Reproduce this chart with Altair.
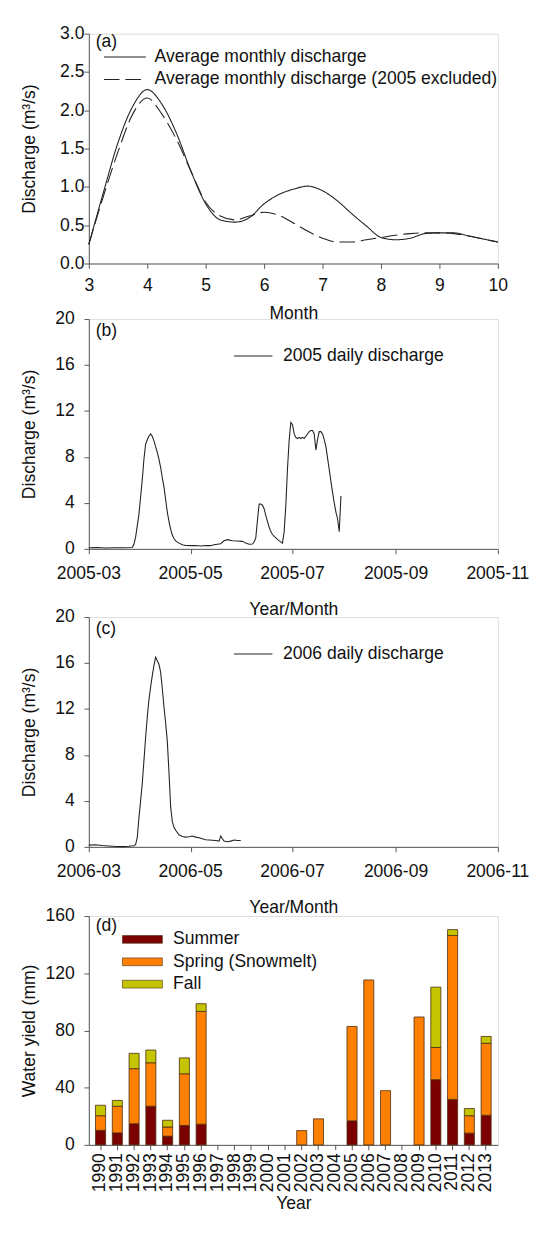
import altair as alt
import pandas as pd

FONT = "Liberation Sans"

# ---------------- (a) average monthly discharge ----------------
months = [3.0, 3.25, 3.5, 3.75, 4.0, 4.25, 4.5, 4.75, 5.0, 5.25, 5.5, 5.75,
          6.0, 6.25, 6.5, 6.75, 7.0, 7.25, 7.5, 7.75, 8.0, 8.25, 8.5, 8.75,
          9.0, 9.25, 9.5, 9.75, 10.0]
avg_all = [0.25, 0.93, 1.58, 2.05, 2.27, 2.08, 1.70, 1.20, 0.78, 0.57, 0.54, 0.60,
           0.78, 0.90, 0.97, 1.01, 0.95, 0.82, 0.65, 0.49, 0.34, 0.31, 0.33, 0.39,
           0.40, 0.40, 0.36, 0.32, 0.28]
avg_excl = [0.25, 0.88, 1.46, 1.95, 2.16, 1.95, 1.62, 1.20, 0.80, 0.62, 0.57, 0.62,
            0.67, 0.63, 0.53, 0.42, 0.33, 0.28, 0.28, 0.31, 0.34, 0.37, 0.39, 0.40,
            0.40, 0.39, 0.36, 0.32, 0.28]
series_a = ["Average monthly discharge", "Average monthly discharge (2005 excluded)"]

# ---------------- (b) 2005 daily discharge ----------------
dates_2005 = ["2005-03-01", "2005-03-06", "2005-03-11", "2005-03-16", "2005-03-21",
              "2005-03-27", "2005-03-28", "2005-03-29", "2005-03-30", "2005-03-31",
              "2005-04-01", "2005-04-02", "2005-04-03", "2005-04-04", "2005-04-05",
              "2005-04-06", "2005-04-07", "2005-04-08", "2005-04-09", "2005-04-10",
              "2005-04-11", "2005-04-12", "2005-04-13", "2005-04-14", "2005-04-15",
              "2005-04-16", "2005-04-17", "2005-04-18", "2005-04-19", "2005-04-20",
              "2005-04-21", "2005-04-22", "2005-04-24", "2005-04-26", "2005-04-28",
              "2005-05-01", "2005-05-04", "2005-05-07", "2005-05-10", "2005-05-13",
              "2005-05-15", "2005-05-17", "2005-05-19", "2005-05-21", "2005-05-23",
              "2005-05-26", "2005-05-29", "2005-06-01", "2005-06-03", "2005-06-05",
              "2005-06-07", "2005-06-08", "2005-06-09", "2005-06-10", "2005-06-11",
              "2005-06-12", "2005-06-13", "2005-06-14", "2005-06-15", "2005-06-16",
              "2005-06-17", "2005-06-18", "2005-06-19", "2005-06-21", "2005-06-23",
              "2005-06-25", "2005-06-26", "2005-06-27", "2005-06-28", "2005-06-29",
              "2005-06-30", "2005-07-01", "2005-07-02", "2005-07-03", "2005-07-04",
              "2005-07-05", "2005-07-06", "2005-07-07", "2005-07-08", "2005-07-09",
              "2005-07-10", "2005-07-11", "2005-07-12", "2005-07-13", "2005-07-14",
              "2005-07-15", "2005-07-16", "2005-07-17", "2005-07-18", "2005-07-19",
              "2005-07-20", "2005-07-21", "2005-07-22", "2005-07-23", "2005-07-24",
              "2005-07-25", "2005-07-26", "2005-07-27", "2005-07-28", "2005-07-29",
              "2005-07-30"]
q_2005 = [0.10, 0.12, 0.08, 0.10, 0.09,
          0.12, 0.40, 1.0, 2.0, 3.0,
          4.5, 6.0, 7.8, 9.1, 9.5,
          9.8, 10.0, 9.8, 9.4, 8.9,
          8.4, 7.8, 7.1, 6.2, 5.4,
          4.3, 3.2, 2.4, 1.7, 1.2,
          0.9, 0.7, 0.5, 0.35, 0.30,
          0.28, 0.30, 0.25, 0.30, 0.28,
          0.35, 0.40, 0.45, 0.70, 0.80,
          0.70, 0.68, 0.65, 0.50, 0.40,
          0.42, 0.60, 0.95, 2.5, 3.9,
          3.9, 3.8, 3.5, 2.9, 2.4,
          1.9, 1.5, 1.25, 0.95, 0.70,
          0.50, 1.5, 3.8, 7.0, 9.5,
          11.0, 10.8, 10.0, 9.7, 9.6,
          9.7, 9.6, 9.7, 9.6, 9.8,
          10.0, 10.2, 10.3, 10.3, 10.0,
          8.6, 9.5, 10.2, 10.2, 10.0,
          9.5, 8.9, 7.9, 6.9, 5.9,
          4.9, 4.0, 3.2, 2.6, 1.5,
          4.6]
ticks_2005 = ["2005-03-01", "2005-05-01", "2005-07-01", "2005-09-01", "2005-11-01"]
tick_labels_2005 = ["2005-03", "2005-05", "2005-07", "2005-09", "2005-11"]

# ---------------- (c) 2006 daily discharge ----------------
dates_2006 = ["2006-03-01", "2006-03-05", "2006-03-09", "2006-03-13", "2006-03-17",
              "2006-03-21", "2006-03-25", "2006-03-28", "2006-03-29", "2006-03-30",
              "2006-03-31", "2006-04-01", "2006-04-02", "2006-04-03", "2006-04-04",
              "2006-04-05", "2006-04-06", "2006-04-07", "2006-04-08", "2006-04-09",
              "2006-04-10", "2006-04-11", "2006-04-12", "2006-04-13", "2006-04-14",
              "2006-04-15", "2006-04-16", "2006-04-17", "2006-04-18", "2006-04-19",
              "2006-04-20", "2006-04-21", "2006-04-22", "2006-04-24", "2006-04-26",
              "2006-04-28", "2006-04-30", "2006-05-02", "2006-05-04", "2006-05-06",
              "2006-05-08", "2006-05-10", "2006-05-12", "2006-05-14", "2006-05-16",
              "2006-05-18", "2006-05-19", "2006-05-20", "2006-05-21", "2006-05-23",
              "2006-05-25", "2006-05-27", "2006-05-29", "2006-05-31"]
q_2006 = [0.15, 0.18, 0.12, 0.08, 0.03,
          0.02, 0.05, 0.10, 0.20, 0.80,
          2.5, 4.0, 5.5, 7.5, 9.5,
          11.3, 12.8, 13.9, 14.9, 15.8,
          16.5, 16.2, 15.9, 15.2, 13.8,
          12.2, 10.8, 9.2, 6.5, 3.5,
          2.2, 1.7, 1.45, 1.05, 0.90,
          0.85, 0.88, 0.95, 0.85, 0.80,
          0.70, 0.62, 0.60, 0.58, 0.55,
          0.50, 0.95, 0.70, 0.50, 0.45,
          0.50, 0.60, 0.55, 0.55]
ticks_2006 = ["2006-03-01", "2006-05-01", "2006-07-01", "2006-09-01", "2006-11-01"]
tick_labels_2006 = ["2006-03", "2006-05", "2006-07", "2006-09", "2006-11"]

# ---------------- (d) seasonal water yield ----------------
years = ["1990", "1991", "1992", "1993", "1994", "1995", "1996", "1997", "1998",
         "1999", "2000", "2001", "2002", "2003", "2004", "2005", "2006", "2007",
         "2008", "2009", "2010", "2011", "2012", "2013"]
summer = [10.2, 8.4, 14.8, 27.0, 6.1, 13.6, 14.5, 0, 0, 0, 0, 0,
          0, 0, 0, 16.8, 0, 0, 0, 0, 45.6, 31.8, 8.2, 20.7]
spring = [10.2, 18.6, 38.5, 30.4, 6.4, 36.1, 78.8, 0, 0, 0, 0, 0,
          10.0, 18.2, 0, 66.0, 115.3, 37.9, 0, 89.4, 22.5, 114.6, 12.2, 50.3]
fall = [7.3, 4.1, 10.7, 8.9, 4.7, 11.1, 5.4, 0, 0, 0, 0, 0,
        0, 0, 0, 0, 0, 0, 0, 0, 42.2, 4.1, 5.0, 4.8]
seasons = ["Summer", "Spring (Snowmelt)", "Fall"]
season_colors = ["#7B0000", "#FF8000", "#C4C400"]

# ---------------- layout ----------------
W = 420
H = 236
TXT = "#111111"
AX = "#555555"

base_axis = dict(labelFont=FONT, labelFontSize=18, titleFont=FONT, titleFontSize=18,
                 titleFontWeight="normal", labelColor=TXT, titleColor=TXT,
                 domainColor=AX, tickColor=AX, tickSize=5, grid=False,
                 labelFlush=False, labelOverlap=False)


def y_axis(title, values, fmt, height, label_pad):
    return alt.Axis(title=title, values=values, format=fmt, labelPadding=label_pad,
                    titleX=-60.5, titleY=height / 2, titleAngle=-90,
                    titleAlign="center", titleBaseline="middle", **base_axis)


def label_layer(text, x, y):
    return alt.Chart(pd.DataFrame({"t": [text]})).mark_text(
        align="left", baseline="middle", font=FONT, fontSize=18, color=TXT
    ).encode(x=alt.value(x), y=alt.value(y), text="t:N")


def legend_line(x1, x2, y, dash=None):
    kw = dict(color="#222222", strokeWidth=1.1)
    if dash:
        kw["strokeDash"] = dash
    return alt.Chart(pd.DataFrame({"k": [0]})).mark_rule(**kw).encode(
        x=alt.value(x1), x2=alt.value(x2), y=alt.value(y))


# ---- panel (a)
df_a = pd.DataFrame({
    "month": months * 2,
    "q": avg_all + avg_excl,
    "series": [series_a[0]] * len(months) + [series_a[1]] * len(months),
})
lines_a = alt.Chart(df_a).mark_line(interpolate="monotone", strokeWidth=1.1, color="#222222").encode(
    x=alt.X("month:Q", scale=alt.Scale(domain=[3, 10], nice=False),
            axis=alt.Axis(title="Month", values=list(range(3, 11)), format="d",
                          labelPadding=9, titleY=51, titleBaseline="middle", **base_axis)),
    y=alt.Y("q:Q", scale=alt.Scale(domain=[0, 3], nice=False),
            axis=y_axis("Discharge (m³/s)", [0, 0.5, 1.0, 1.5, 2.0, 2.5, 3.0], ".1f", H, 0)),
    strokeDash=alt.StrokeDash("series:N", scale=alt.Scale(domain=series_a, range=[[1, 0], [16, 6]]),
                              legend=None),
    detail="series:N",
)
panel_a = alt.layer(
    lines_a,
    label_layer("(a)", 7, 9),
    legend_line(15.5, 58.5, 24),
    label_layer(series_a[0], 67.5, 24),
    legend_line(15.5, 58.5, 47, [16, 6]),
    label_layer(series_a[1], 67.5, 47),
).properties(width=W, height=H)


# ---- panels (b) and (c)
def daily_panel(dates, q, year, ticks, tick_labels, tag, legend_text):
    df = pd.DataFrame({"date": [d + "T00:00:00Z" for d in dates], "q": q})
    tick_dt = [alt.DateTime(year=year, month=m, date=1, utc=True) for m in (3, 5, 7, 9, 11)]
    xscale = alt.Scale(type="utc", domain=[tick_dt[0], tick_dt[-1]], nice=False)
    line = alt.Chart(df).mark_line(strokeWidth=1.1, color="#222222").encode(
        x=alt.X("date:T", scale=xscale,
                axis=alt.Axis(title="Year/Month", values=tick_dt, labels=False,
                              titleY=62, titleBaseline="middle", **base_axis)),
        y=alt.Y("q:Q", scale=alt.Scale(domain=[0, 20], nice=False),
                axis=y_axis("Discharge (m³/s)", [0, 4, 8, 12, 16, 20], "d", H, 10)),
    )
    # tick labels sit slightly left of their ticks; the last one is kept inside the page
    df_t = pd.DataFrame({"date": [t + "T00:00:00Z" for t in ticks], "lab": tick_labels})
    df_t["off"] = [-6] * (len(ticks) - 1) + [-14]
    tick_text = alt.Chart(df_t).mark_text(
        align="center", baseline="middle", font=FONT, fontSize=18, color=TXT
    ).encode(x=alt.X("date:T", scale=xscale), xOffset=alt.XOffset("off:Q", scale=None),
             y=alt.value(H + 26), text="lab:N")
    return alt.layer(
        line,
        tick_text,
        label_layer(tag, 7, 12),
        legend_line(149, 188.5, 38),
        label_layer(legend_text, 199.5, 38),
    ).properties(width=W, height=H)


panel_b = daily_panel(dates_2005, q_2005, 2005, ticks_2005, tick_labels_2005, "(b)",
                      "2005 daily discharge")
panel_c = daily_panel(dates_2006, q_2006, 2006, ticks_2006, tick_labels_2006, "(c)",
                      "2006 daily discharge")

# ---- panel (d)
rows = []
for i, y in enumerate(years):
    for k, (s, vals) in enumerate(zip(seasons, [summer, spring, fall])):
        if vals[i] > 0:
            rows.append({"year": y, "season": s, "value": vals[i], "order": k})
df_d = pd.DataFrame(rows)
HD = 235
bars = alt.Chart(df_d).mark_bar(stroke="#4a2a10", strokeWidth=0.8).encode(
    x=alt.X("year:N", sort=years,
            scale=alt.Scale(domain=years, paddingInner=0.4, paddingOuter=0.4),
            axis=alt.Axis(title="Year", labelAngle=-90, labelPadding=3, titleY=60,
                          titleBaseline="middle", **base_axis)),
    y=alt.Y("value:Q", stack="zero", scale=alt.Scale(domain=[0, 160], nice=False),
            axis=y_axis("Water yield (mm)", [0, 40, 80, 120, 160], "d", HD, 10)),
    color=alt.Color("season:N", scale=alt.Scale(domain=seasons, range=season_colors), legend=None),
    order=alt.Order("order:Q"),
)
df_leg = pd.DataFrame({"season": seasons, "ypos": [24, 47, 70]})
leg_sw = alt.Chart(df_leg).mark_rect(stroke="#4a2a10", strokeWidth=0.6).encode(
    x=alt.value(34.5), x2=alt.value(75.5),
    y=alt.Y("ytop:Q", scale=None), y2=alt.Y2("ybot:Q"),
    color=alt.Color("season:N", scale=alt.Scale(domain=seasons, range=season_colors), legend=None),
).transform_calculate(ytop="datum.ypos - 4", ybot="datum.ypos + 4")
leg_tx = alt.Chart(df_leg).mark_text(align="left", baseline="middle", font=FONT, fontSize=18,
                                     color=TXT).encode(
    x=alt.value(86.5), y=alt.Y("ypos:Q", scale=None), text="season:N")
panel_d = alt.layer(bars, leg_sw, leg_tx, label_layer("(d)", 7, 10)).properties(width=W, height=HD)

inner_cd = alt.vconcat(panel_c, panel_d, spacing=71, bounds="flush")
inner_bcd = alt.vconcat(panel_b, inner_cd, spacing=70, bounds="flush")
chart = alt.vconcat(panel_a, inner_bcd, spacing=57, bounds="flush").properties(
    padding={"left": 12, "top": 0, "right": 0, "bottom": 0}
).configure_view(stroke=None).configure(background="white")

chart.save("out.html", embed_options={"renderer": "svg", "actions": False})
